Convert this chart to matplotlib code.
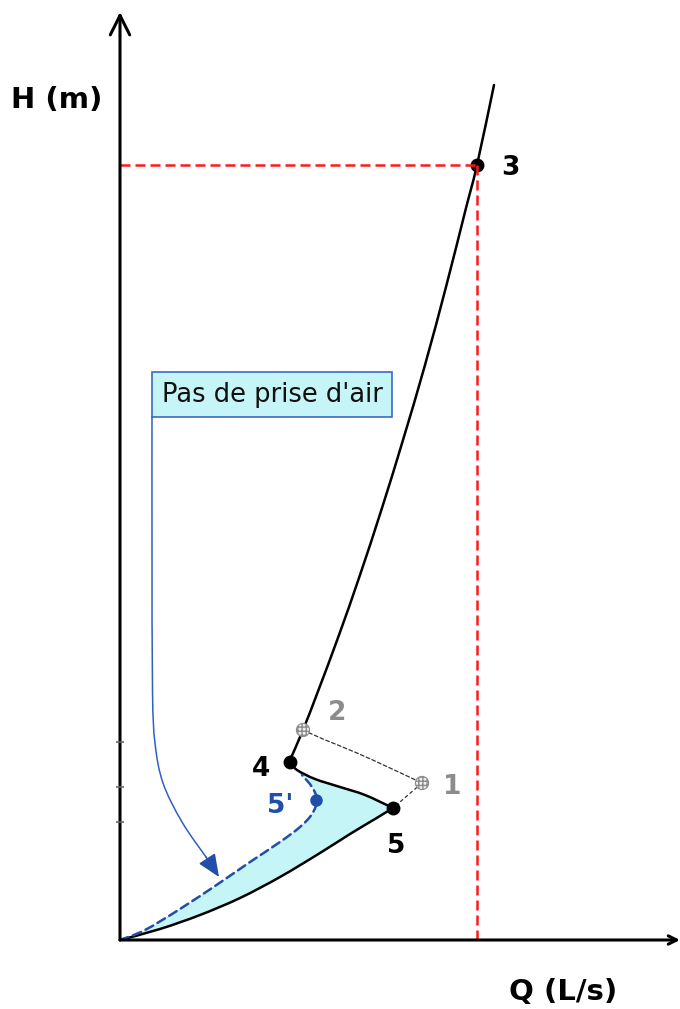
import matplotlib

matplotlib.use("Agg")
import matplotlib.pyplot as plt
import numpy as np
from matplotlib.path import Path
from matplotlib.patches import PathPatch

# arbitrary Q / H units (no graduation on the axes)
pump_q = [17.0, 18.3, 19.85, 21.9, 24.0, 26.2, 28.3, 30.5, 32.65, 34.55, 35.7, 37.4]
pump_h = [18.0, 21.0, 25.0, 30.5, 36.5, 43.2, 50.0, 57.5, 65.5, 73.0, 77.5, 85.5]

# 4 -> 5 drop
drop_q = [17.0, 17.7, 19.5, 22.0, 24.5, 27.3]
drop_h = [17.8, 17.0, 16.1, 15.3, 14.5, 13.2]

# 5 -> origin
low_q = [27.3, 25.5, 23.0, 20.0, 16.0, 12.0, 8.0, 4.0, 0.0]
low_h = [13.2, 12.1, 10.6, 8.7, 6.3, 4.2, 2.5, 1.1, 0.0]

# no air intake branch (blue dashed), origin -> 5' -> near 4
air_q = [0.0, 2.5, 6.0, 9.8, 13.0, 16.0, 18.0, 19.2, 19.7, 19.2, 18.2]
air_h = [0.0, 1.0, 3.1, 5.6, 7.8, 9.8, 11.3, 12.6, 14.0, 15.3, 16.5]

# thin dashed path 2 -> 1 -> 5
trans_q = [18.3, 20.3, 23.7, 27.0, 30.2]
trans_h = [21.0, 20.1, 18.7, 17.2, 15.7]

pts = {"1": (30.2, 15.7), "2": (18.3, 21.0), "3": (35.7, 77.5),
       "4": (17.0, 17.8), "5": (27.3, 13.2), "5'": (19.6, 14.0)}
h_ticks = [19.8, 15.3, 11.8]

BLUE = "#1f4fa8"
RED = "#ff1a1a"
CYAN = "#c6f5f7"
GRAY = "#8c8c8c"


def smooth(xs, ys):
    """Catmull-Rom through the points, as cubic Bezier segments."""
    p = np.column_stack([xs, ys]).astype(float)
    n = len(p)
    verts, codes = [p[0]], [Path.MOVETO]
    for i in range(n - 1):
        p0 = p[i - 1] if i > 0 else p[i]
        p3 = p[i + 2] if i + 2 < n else p[i + 1]
        verts += [p[i] + (p[i + 1] - p0) / 6, p[i + 1] - (p3 - p[i]) / 6, p[i + 1]]
        codes += [Path.CURVE4] * 3
    return verts, codes


def curve(ax, xs, ys, **kw):
    v, c = smooth(xs, ys)
    ax.add_patch(PathPatch(Path(v, c), fill=False, capstyle="round", **kw))


fig = plt.figure(figsize=(6.8, 10.09), dpi=100)
ax = fig.add_axes([0, 0, 1, 1])
ax.set_xlim(-12, 56)
ax.set_ylim(-6.9, 94)
ax.axis("off")

# shaded zone between the two low branches
verts, codes = [], []
for xs, ys in [(air_q, air_h), (drop_q[1:], drop_h[1:]), (low_q, low_h)]:
    v, c = smooth(xs, ys)
    if codes:
        c[0] = Path.LINETO
    verts += v
    codes += c
ax.add_patch(PathPatch(Path(verts, codes), facecolor=CYAN, lw=0, zorder=1))

# axes with arrows
ax.annotate("", xy=(0, 92.8), xytext=(0, 0),
            arrowprops=dict(arrowstyle="->,head_width=0.35,head_length=0.7",
                            lw=2.2, color="black", mutation_scale=20,
                            shrinkA=0, shrinkB=0), zorder=5)
ax.annotate("", xy=(56.0, 0), xytext=(0, 0),
            arrowprops=dict(arrowstyle="->,head_width=0.15,head_length=0.3",
                            lw=2.2, color="black", mutation_scale=20,
                            shrinkA=0, shrinkB=0), zorder=5)
ax.plot([0] * len(h_ticks), h_ticks, ls="none", marker="_", ms=6,
        mew=1.2, color="#666666", zorder=6)

# curves
curve(ax, pump_q, pump_h, edgecolor="black", lw=1.8, zorder=3)
curve(ax, drop_q, drop_h, edgecolor="black", lw=1.8, zorder=3)
curve(ax, low_q, low_h, edgecolor="black", lw=1.8, zorder=3)
curve(ax, air_q, air_h, edgecolor=BLUE, lw=1.8, ls=(0, (3.5, 2)), zorder=3)
curve(ax, trans_q, trans_h, edgecolor="#333333", lw=0.9, ls=(0, (3, 2)), zorder=3)
ax.plot([pts["1"][0], pts["5"][0]], [pts["1"][1], pts["5"][1]],
        color="#333333", lw=0.9, ls=(0, (3, 2)), zorder=3)

# operating point 3 projections
q3, h3 = pts["3"]
ax.plot([0, q3], [h3, h3], color=RED, lw=1.8, ls=(0, (4, 2)), zorder=4)
ax.plot([q3, q3], [h3, 0], color=RED, lw=1.8, ls=(0, (4, 2)), zorder=4)

# points
for k in ["3", "4", "5"]:
    ax.plot(*pts[k], marker="o", ms=9, color="black", zorder=3.5)
for k in ["1", "2"]:
    ax.scatter(*pts[k], s=90, facecolor="#eeeeee", edgecolor=GRAY,
               hatch="++++", lw=0.8, zorder=4)
ax.plot(*pts["5'"], marker="o", ms=8, color=BLUE, zorder=4)

lab = dict(fontsize=19, fontweight="bold", ha="center", va="center")
ax.text(q3 + 3.3, h3 - 0.3, "3", color="black", **lab)
ax.text(pts["4"][0] - 2.9, pts["4"][1] - 0.7, "4", color="black", **lab)
ax.text(pts["5"][0] + 0.3, pts["5"][1] - 3.8, "5", color="black", **lab)
ax.text(pts["2"][0] + 3.4, pts["2"][1] + 1.7, "2", color=GRAY, **lab)
ax.text(pts["1"][0] + 3.0, pts["1"][1] - 0.4, "1", color=GRAY, **lab)
ax.text(pts["5'"][0] - 3.6, pts["5'"][1] - 0.6, "5'", color=BLUE, **lab)

ax.text(-6.3, 84.0, "H (m)", fontsize=21, fontweight="bold",
        ha="center", va="center")
ax.text(44.3, -5.2, "Q (L/s)", fontsize=21, fontweight="bold",
        ha="center", va="center")

# callout box and connector
ax.add_patch(plt.Rectangle((3.2, 52.3), 24.0, 4.5, facecolor=CYAN,
                           edgecolor="#3a6cc8", lw=1.2, zorder=5))
ax.text(15.2, 54.5, "Pas de prise d'air", fontsize=18.5, ha="center",
        va="center", color="#111111", zorder=6)
conn_q = [3.2, 3.2, 3.25, 3.5, 4.3, 6.2, 8.6]
conn_h = [52.3, 40.0, 25.0, 19.7, 15.7, 11.8, 8.3]
curve(ax, conn_q, conn_h, edgecolor="#3060c0", lw=1.1, zorder=5)
ax.annotate("", xy=(9.9, 6.3), xytext=(conn_q[-1], conn_h[-1]),
            arrowprops=dict(arrowstyle="-|>,head_width=0.3,head_length=0.7",
                            color=BLUE, lw=1.1, mutation_scale=20,
                            shrinkA=0, shrinkB=0), zorder=5)

fig.savefig("out.png", dpi=100)
